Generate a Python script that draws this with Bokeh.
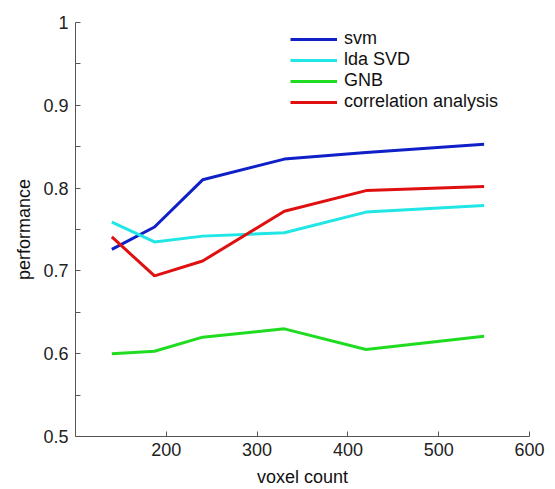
from bokeh.plotting import figure
from bokeh.models import Legend, LegendItem, FixedTicker, CustomJSTickFormatter, Range1d
from bokeh.embed import file_html
from bokeh.resources import INLINE

voxel_count = [140, 187, 240, 330, 420, 550]
svm = [0.726, 0.753, 0.810, 0.835, 0.843, 0.853]
lda_svd = [0.759, 0.735, 0.742, 0.746, 0.771, 0.779]
gnb = [0.600, 0.603, 0.620, 0.630, 0.605, 0.621]
correlation = [0.741, 0.694, 0.712, 0.772, 0.797, 0.802]

series_names = ["svm", "lda SVD", "GNB", "correlation analysis"]
series_values = [svm, lda_svd, gnb, correlation]
series_colors = ["#1020c8", "#20e6e6", "#20dc20", "#e01010"]

x_ticks = [200, 300, 400, 500, 600]
y_ticks = [0.5, 0.6, 0.7, 0.8, 0.9, 1.0]
y_minor = [0.55, 0.65, 0.75, 0.85, 0.95]

FONT = "Liberation Sans"

p = figure(width=547, height=489, output_backend="svg", toolbar_location=None,
           x_range=Range1d(100, 600), y_range=Range1d(0.5, 1.0),
           min_border_left=75, min_border_right=18, min_border_top=22, min_border_bottom=52)
p.outline_line_color = None
p.xgrid.visible = False
p.ygrid.visible = False
p.background_fill_color = "white"

renderers = []
for vals, col in zip(series_values, series_colors):
    r = p.line(voxel_count, vals, line_color=col, line_width=3)
    renderers.append(r)

items = [LegendItem(label=n, renderers=[r]) for n, r in zip(series_names, renderers)]
legend = Legend(items=items, location=(215, 324), border_line_color=None,
                background_fill_alpha=0, padding=0, margin=0, spacing=0,
                glyph_width=47, glyph_height=20, label_height=20, label_standoff=7,
                label_text_font=FONT, label_text_font_size="18px", label_text_color="#111111",
                label_text_line_height=1.0)
p.add_layout(legend)

for ax in (p.xaxis[0], p.yaxis[0]):
    ax.axis_line_color = "#555555"
    ax.major_tick_line_color = "#555555"
    ax.minor_tick_line_color = "#555555"
    ax.major_tick_in = 5
    ax.major_tick_out = 0
    ax.minor_tick_in = 5
    ax.minor_tick_out = 0
    ax.major_label_text_font = FONT
    ax.major_label_text_font_size = "18px"
    ax.major_label_text_color = "#222222"
    ax.axis_label_text_font = FONT
    ax.axis_label_text_font_size = "18px"
    ax.axis_label_text_font_style = "normal"
    ax.axis_label_text_color = "#111111"

p.xaxis.ticker = FixedTicker(ticks=x_ticks)
p.yaxis.ticker = FixedTicker(ticks=y_ticks, minor_ticks=y_minor)
p.yaxis.formatter = CustomJSTickFormatter(code="return String(Math.round(tick*10)/10);")
p.xaxis.axis_label = "voxel count"
p.yaxis.axis_label = "performance"
p.xaxis.major_label_standoff = 6
p.xaxis.axis_label_standoff = 8
p.xaxis.major_label_text_line_height = 0.9
p.xaxis.axis_label_text_line_height = 0.8
p.yaxis.major_label_standoff = 7
p.yaxis.axis_label_standoff = 6

open("out.html", "w").write(file_html(p, INLINE))
